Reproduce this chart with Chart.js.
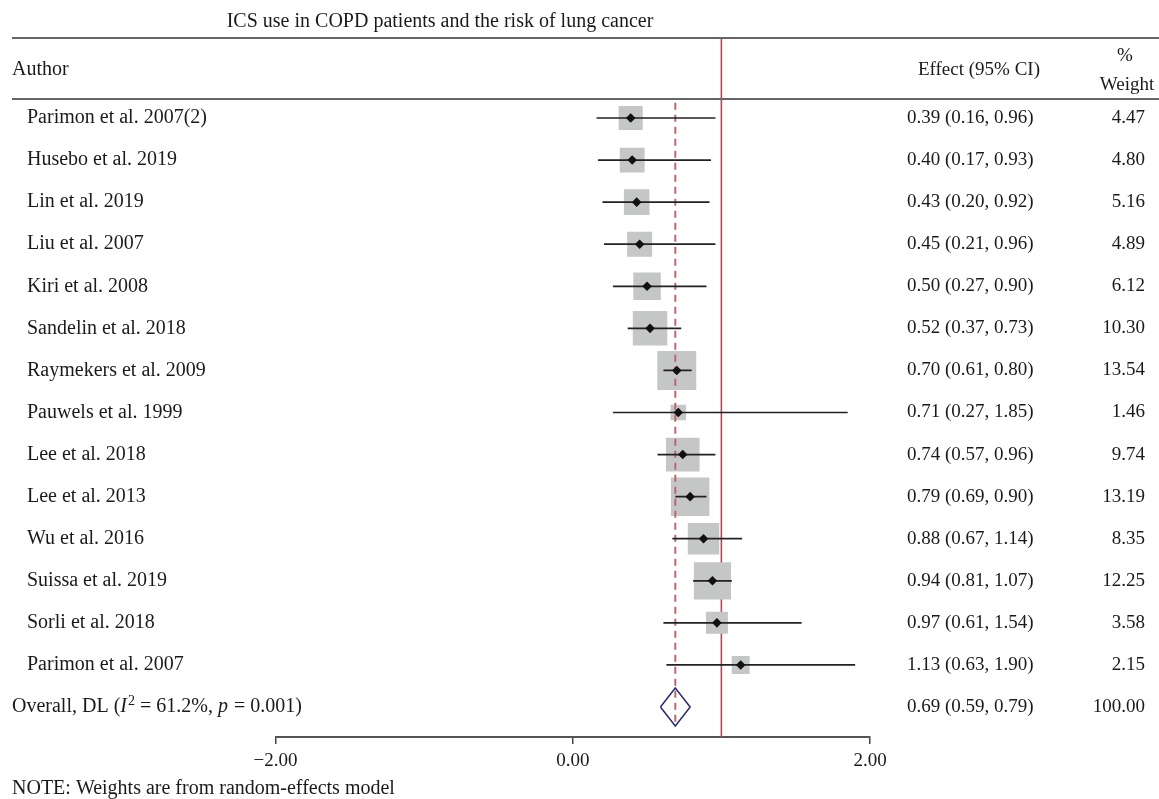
<!DOCTYPE html>
<html><head><meta charset="utf-8">
<script src="https://cdn.jsdelivr.net/npm/chart.js@4.4.1/dist/chart.umd.min.js"></script>
<style>html,body{margin:0;padding:0;background:#fff;} #wrap{width:1159px;height:799px;position:relative;}</style>
</head><body><div id="wrap"><canvas id="c"></canvas></div>
<script>
const chartTitle = 'ICS use in COPD patients and the risk of lung cancer';
const authors = ['Parimon et al. 2007(2)', 'Husebo et al. 2019', 'Lin et al. 2019', 'Liu et al. 2007',
  'Kiri et al. 2008', 'Sandelin et al. 2018', 'Raymekers et al. 2009', 'Pauwels et al. 1999',
  'Lee et al. 2018', 'Lee et al. 2013', 'Wu et al. 2016', 'Suissa et al. 2019', 'Sorli et al. 2018',
  'Parimon et al. 2007'];
const effect = [0.39, 0.40, 0.43, 0.45, 0.50, 0.52, 0.70, 0.71, 0.74, 0.79, 0.88, 0.94, 0.97, 1.13];
const lower  = [0.16, 0.17, 0.20, 0.21, 0.27, 0.37, 0.61, 0.27, 0.57, 0.69, 0.67, 0.81, 0.61, 0.63];
const upper  = [0.96, 0.93, 0.92, 0.96, 0.90, 0.73, 0.80, 1.85, 0.96, 0.90, 1.14, 1.07, 1.54, 1.90];
const weight = [4.47, 4.80, 5.16, 4.89, 6.12, 10.30, 13.54, 1.46, 9.74, 13.19, 8.35, 12.25, 3.58, 2.15];
const overallEffect = 0.69, overallLower = 0.59, overallUpper = 0.79, overallWeight = 100.00;
const nullValue = 1;
const xTicks = [-2, 0, 2];

const FONT_FAMILY = "'Liberation Serif', 'Times New Roman', serif";
const FS = 19;     // numbers
const FL = 20;     // labels / title
const overallRow = authors.length;
const diamondHalf = 0.45;

const boxSide = w => 4 + 9.5 * Math.sqrt(w);

const datasets = [];
// reference line at no effect
datasets.push({type:'scatter', showLine:true, order:10, data:[{x:nullValue,y:-5},{x:nullValue,y:20}],
  borderColor:'#c4414b', borderWidth:1.6, pointRadius:0});
// weight boxes
datasets.push({type:'scatter', order:9, data: effect.map((e,i)=>({x:e,y:i})),
  pointStyle:'rect', pointRadius: weight.map(w=>boxSide(w)/Math.SQRT2),
  backgroundColor:'#c5c6c6', borderWidth:0, pointBorderWidth:0});
// overall dashed line
datasets.push({type:'scatter', showLine:true, order:8,
  data:[{x:overallEffect,y:-0.36},{x:overallEffect,y:overallRow+diamondHalf}],
  borderColor:'#b8686d', borderWidth:2, borderDash:[7,5], pointRadius:0});
// CI lines
effect.forEach((e,i)=>{
  datasets.push({type:'scatter', showLine:true, order:7, data:[{x:lower[i],y:i},{x:upper[i],y:i}],
    borderColor:'#222', borderWidth:1.7, pointRadius:0});
});
// overall diamond
datasets.push({type:'scatter', showLine:true, order:6,
  data:[{x:overallLower,y:overallRow},{x:overallEffect,y:overallRow-diamondHalf},
        {x:overallUpper,y:overallRow},{x:overallEffect,y:overallRow+diamondHalf},
        {x:overallLower,y:overallRow}],
  borderColor:'#2b2a6e', borderWidth:1.5, pointRadius:0, fill:false, tension:0});
// point estimate markers
datasets.push({type:'scatter', order:5, data: effect.map((e,i)=>({x:e,y:i})),
  pointStyle:'rectRot', pointRadius:4.8, backgroundColor:'#111', borderColor:'#111', pointBorderWidth:0});

const fmt = v => v.toFixed(2);

const textPlugin = {
  id:'forestText',
  afterDraw(chart){
    const ctx = chart.ctx, ys = chart.scales.y;
    const fN = FS + 'px ' + FONT_FAMILY, fL = FL + 'px ' + FONT_FAMILY;
    ctx.save();
    ctx.fillStyle = '#1a1a1a';
    ctx.textBaseline = 'middle';
    // title
    ctx.font = fL;
    ctx.textAlign = 'center';
    ctx.fillText(chartTitle, 440, 22);
    // header rules
    ctx.strokeStyle = '#666'; ctx.lineWidth = 2;
    ctx.beginPath(); ctx.moveTo(12, 38); ctx.lineTo(1159, 38); ctx.stroke();
    ctx.beginPath(); ctx.moveTo(12, 99); ctx.lineTo(1159, 99); ctx.stroke();
    // headers
    ctx.textAlign = 'left';
    ctx.fillText('Author', 12, 70);
    ctx.font = fN;
    ctx.textAlign = 'right';
    ctx.fillText('Effect (95% CI)', 1040, 70);
    ctx.textAlign = 'center';
    ctx.fillText('%', 1125, 56);
    ctx.fillText('Weight', 1127, 85);
    // rows
    authors.forEach((a,i)=>{
      const y = ys.getPixelForValue(i);
      ctx.textAlign = 'left';
      ctx.font = fL;
      ctx.fillText(a, 27, y);
      ctx.font = fN;
      ctx.fillText(fmt(effect[i]) + ' (' + fmt(lower[i]) + ', ' + fmt(upper[i]) + ')', 907, y);
      ctx.textAlign = 'right';
      ctx.fillText(fmt(weight[i]), 1145, y);
    });
    // overall row
    const yo = ys.getPixelForValue(overallRow);
    ctx.font = fN;
    ctx.textAlign = 'left';
    ctx.fillText(fmt(overallEffect) + ' (' + fmt(overallLower) + ', ' + fmt(overallUpper) + ')', 907, yo);
    ctx.textAlign = 'right';
    ctx.fillText(fmt(overallWeight), 1145, yo);
    ctx.textAlign = 'left';
    const segs = [
      ['Overall, DL (', 'normal', FL, 0],
      ['I', 'italic', FL, 0],
      ['2', 'normal', 14, -6],
      [' = 61.2%, ', 'normal', FL, 0],
      ['p', 'italic', FL, 0],
      [' = 0.001)', 'normal', FL, 0]
    ];
    let x = 12;
    segs.forEach(([t, st, sz, dy])=>{
      ctx.font = (st==='italic'?'italic ':'') + sz + 'px ' + FONT_FAMILY;
      ctx.fillText(t, x, yo + dy);
      x += ctx.measureText(t).width + (st==='italic' ? 1 : 0);
    });
    // note
    ctx.font = fL;
    ctx.fillText('NOTE: Weights are from random-effects model', 12, 789);
    ctx.restore();
  }
};

new Chart(document.getElementById('c'), {
  type:'scatter',
  data:{datasets},
  options:{
    responsive:true, maintainAspectRatio:false, animation:false,
    layout:{padding:{left:275.5, right:289, top:38, bottom:0}},
    plugins:{legend:{display:false}, tooltip:{enabled:false}, title:{display:false}},
    scales:{
      x:{type:'linear', min:-2, max:2,
        afterBuildTicks: s => { s.ticks = xTicks.map(v=>({value:v})); },
        afterFit: s => { s.height = 62; },
        ticks:{autoSkip:false, maxRotation:0, padding:6, color:'#1a1a1a',
          font:{family:FONT_FAMILY, size:FS},
          callback: v => (v<0?'\u2212':'') + Math.abs(v).toFixed(2)},
        grid:{display:true, drawOnChartArea:false, drawTicks:true, tickLength:7, color:'#444', lineWidth:1.5},
        border:{display:true, color:'#555', width:2}
      },
      y:{type:'linear', reverse:true, min:-1.9016, max:14.713, display:false}
    }
  },
  plugins:[textPlugin]
});
</script>
</body></html>
